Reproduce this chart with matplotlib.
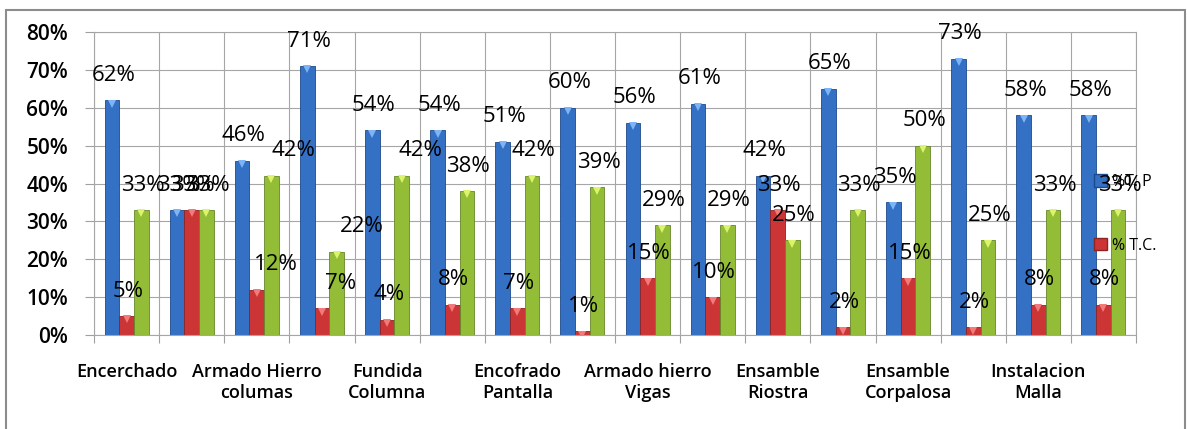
import numpy as np
import matplotlib
matplotlib.use('Agg')
import matplotlib.pyplot as plt
from matplotlib.patches import Patch, Rectangle
from matplotlib.ticker import PercentFormatter

plt.rcParams['font.family'] = ['Open Sans', 'DejaVu Sans']

# datos (porcentajes por actividad)
etiquetas = ['Encerchado', 'Armado Hierro\ncolumas', 'Fundida\nColumna', 'Encofrado\nPantalla',
             'Armado hierro\nVigas', 'Ensamble\nRiostra', 'Ensamble\nCorpalosa', 'Instalacion\nMalla']
tp = [62, 33, 46, 71, 54, 54, 51, 60, 56, 61, 42, 65, 35, 73, 58, 58]
tc = [5, 33, 12, 7, 4, 8, 7, 1, 15, 10, 33, 2, 15, 2, 8, 8]
tnc = [33, 33, 42, 22, 42, 38, 42, 39, 29, 29, 25, 33, 50, 25, 33, 33]
nombres = ['%T. P', '% T.C.', '%T.N.C.']

colores = ['#3470c4', '#cc3535', '#93bd36']
bordes = ['#1d4a8c', '#8f2222', '#66862a']
tapas = ['#7db4f5', '#f27a7a', '#dcf46a']

# desplazamientos manuales de algunas etiquetas (grupo, serie): px
ajuste = {(2, 1): 18, (2, 2): 20, (3, 1): 17, (3, 2): 24, (4, 2): 17}

fig = plt.figure(figsize=(11.87, 4.29), dpi=100)
ax = fig.add_axes([94/1187, (429-335)/429, (1136-94)/1187, (335-32)/429])

x = np.arange(len(tp))
w = 0.225
for k, vals in enumerate([tp, tc, tnc]):
    v = np.array(vals) / 100
    pos = x + (k - 1) * w
    ax.bar(pos, v, width=w, color=colores[k], edgecolor=bordes[k], linewidth=0.6, zorder=2)
    ax.plot(pos, v - 0.009, ls='none', marker='v', ms=6, mew=0, color=tapas[k], zorder=3)
    for i in range(len(v)):
        dx = 1.5 + ajuste.get((i, k), 0)
        ax.annotate(f'{vals[i]}%', xy=(pos[i], v[i]), xytext=(dx, 25), textcoords='offset pixels',
                    ha='center', va='center', fontsize=16, fontweight='medium', color='black',
                    zorder=6, annotation_clip=False)

ax.set_xlim(-0.5, len(tp) - 0.5)
ax.set_ylim(0, 0.8)
ax.yaxis.set_major_formatter(PercentFormatter(1.0, decimals=0))
ax.set_yticks(np.arange(0, 0.81, 0.1))
ax.set_xticks(x[::2])
ax.set_xticklabels(etiquetas, fontsize=13, fontweight='semibold', linespacing=1.2)
ax.set_xticks(np.arange(-0.5, len(tp), 1), minor=True)
ax.tick_params(axis='x', which='major', length=0, pad=20)
ax.tick_params(axis='x', which='minor', length=6, color='#a0a0a0', width=0.8)
ax.tick_params(axis='y', length=6.5, color='#a0a0a0', width=0.8, pad=12, labelsize=15)
for t in ax.get_yticklabels():
    t.set_fontweight('semibold')

ax.set_axisbelow(True)
ax.grid(axis='y', which='major', color='#a6a6a6', lw=0.8)
ax.grid(axis='x', which='minor', color='#a6a6a6', lw=0.8)
for s in ax.spines.values():
    s.set_color('#a6a6a6')
    s.set_linewidth(0.8)

handles = [Patch(facecolor=colores[0], edgecolor=bordes[0]), Patch(facecolor=colores[1], edgecolor=bordes[1])]
leg = ax.legend(handles, nombres[:2], loc='upper left', bbox_to_anchor=(1094/1187, (429-174)/429),
                bbox_transform=fig.transFigure, frameon=False, fontsize=11.5, handlelength=0.8,
                handleheight=0.8, handletextpad=0.3, labelspacing=3.0, borderpad=0, borderaxespad=0)
leg.set_zorder(4)

# borde del area del grafico
fig.patches.append(Rectangle((6/1187, -0.1), (1185-6)/1187, (429-10)/429 + 0.1,
                             transform=fig.transFigure, fill=False, edgecolor='#8c8c8c', lw=1.5))

fig.savefig('out.png', dpi=100)
